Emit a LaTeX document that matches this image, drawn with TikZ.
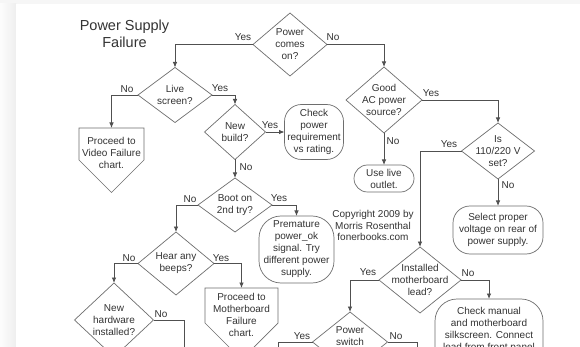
\documentclass[tikz,border=0pt]{standalone}
\usepackage{fontspec}
\setmainfont{Liberation Sans}
\usepackage{tikz}
\usetikzlibrary{arrows.meta,positioning,shapes.geometric,calc}
\definecolor{edge}{HTML}{6E6E6E}
\definecolor{wire}{HTML}{505050}
\definecolor{ink}{HTML}{333333}

\begin{document}
\begin{tikzpicture}[
  x=1pt, y=-1pt,
  font=\fontsize{10}{12}\selectfont, text=ink,
  dec/.style={diamond,draw=edge,line width=0.7pt,inner sep=-20pt,outer sep=0pt,align=center},
  term/.style={rectangle,draw=edge,line width=0.7pt,rounded corners=#1,inner sep=0pt,outer sep=0pt,align=center},
  term/.default=16pt,
  page/.style={rectangle,inner sep=0pt,outer sep=0pt,align=center},
  yn/.style={anchor=base,inner sep=0pt},
  ln/.style={draw=wire,line width=0.8pt},
  a/.style={ln,-{Latex[length=5.5pt,width=4.5pt]}}]
% backdrop of the page
\fill[gray!7] (0,0) rectangle (580,347);
\fill[left color=gray!2,right color=gray!13] (0,4) rectangle (16,347);
\fill[white] (16,4) rectangle (580,347);
\useasboundingbox (0,0) rectangle (580,347);

\node[page,font=\fontsize{14.5}{17}\selectfont,anchor=north] (title) at (124.5,19.5) {Power Supply\\Failure};

% decisions
\node[dec,minimum width=74pt,minimum height=63pt] (power) at (290,44.5) {Power\\comes\\on?};
\node[dec,minimum width=74pt,minimum height=55pt] (live) at (175,95) {Live\\screen?};
\node[dec,minimum width=61pt,minimum height=55pt] (build) at (235,132) {New\\build?};
\node[dec,minimum width=74pt,minimum height=54pt] (boot) at (235,205) {Boot on\\2nd try?};
\node[dec,minimum width=76pt,minimum height=63pt] (hear) at (176,263.5) {Hear any\\beeps?};
\node[dec,minimum width=79pt,minimum height=74pt] (newhw) at (114,320) {New\\hardware\\installed?};
\node[dec,minimum width=76pt,minimum height=66pt] (good) at (384,100) {Good\\AC power\\source?};
\node[dec,minimum width=73pt,minimum height=56pt] (is) at (498,151) {Is\\110/220 V\\set?};
\node[dec,minimum width=82pt,minimum height=66pt] (inst) at (420,280) {Installed\\motherboard\\lead?};
\node[dec,minimum width=75pt,minimum height=60pt] (sw) at (350,342) {Power\\switch\\\phantom{lead?}};

% end boxes
\node[term=17pt,minimum width=59pt,minimum height=55pt,right=19pt of build] (check) {Check\\power\\requirement\\vs rating.};
\node[term=13.5pt,minimum width=60pt,minimum height=27pt,below=32pt of good] (outlet) {Use live\\outlet.};
\node[term=17pt,minimum width=90pt,minimum height=48pt,below=27pt of is] (select) {Select proper\\voltage on rear of\\power supply.};
\node[term=22pt,minimum width=75pt,minimum height=67pt] (prem) at (296.5,249.5) {Premature\\power\_ok\\signal. Try\\different power\\supply.};
\node[term=22pt,minimum width=108pt,minimum height=71pt] (manual) at (489,334.5) {Check manual\\and motherboard\\silkscreen. Connect\\lead from front panel\\\phantom{x}};

% off page charts
\node[page,minimum width=65pt,minimum height=50pt] (video) at (111.5,153) {Proceed to\\Video Failure\\chart.};
\draw[edge,line width=0.7pt] (video.north west) -- (video.north east) -- ([yshift=18pt]video.south east)
  -- ([yshift=-14.5pt]video.south) -- ([yshift=18pt]video.south west) -- cycle;
\node[page,minimum width=73pt,minimum height=53pt] (mobo) at (241.5,314.5) {Proceed to\\Motherboard\\Failure\\chart.};
\draw[edge,line width=0.7pt] (mobo.north west) -- (mobo.north east) -- ([yshift=18pt]mobo.south east)
  -- ([yshift=-18.5pt]mobo.south) -- ([yshift=18pt]mobo.south west) -- cycle;

\node[page,font=\fontsize{10}{11.5}\selectfont,anchor=north] (copy) at (373,210.5) {Copyright 2009 by\\Morris Rosenthal\\fonerbooks.com};

\coordinate (o1) at (184,360);
\coordinate (o2) at (278,360);
\coordinate (o3) at (417,360);

% connectors
\draw[a] (power.west) -| (live.north);
\draw[a] (power.east) -| (good.north);
\draw[a] (live.west) -| (video.north);
\draw[a] (live.east) -| (build.north);
\draw[a] (build.east) -- (check.west);
\draw[a] (build.south) -- (boot.north);
\draw[a] (boot.west) -| (hear.north);
\draw[a] (boot.east) -| (prem.north);
\draw[a] (hear.west) -| (newhw.north);
\draw[a] (hear.east) -| (mobo.north);
\draw[ln] (newhw.east) -| (o1);
\draw[a] (good.east) -| (is.north);
\draw[a] (good.south) -- (outlet.north);
\draw[a] (is.west) -| (inst.north);
\draw[a] (is.south) -- (select.north);
\draw[a] (inst.west) -| (sw.north);
\draw[a] (inst.east) -| (manual.north);
\draw[ln] (sw.west) -| (o2);
\draw[ln] (sw.east) -| (o3);

% yes / no
\node[yn] (y1) at (243,41) {Yes};
\node[yn] (n1) at (333,41) {No};
\node[yn] (n2) at (127,93) {No};
\node[yn] (y2) at (220,92) {Yes};
\node[yn] (y3) at (431,97) {Yes};
\node[yn] (y4) at (270,129) {Yes};
\node[yn] (n3) at (246,171) {No};
\node[yn] (n4) at (393,145) {No};
\node[yn] (y5) at (449,148) {Yes};
\node[yn] (n5) at (508,189) {No};
\node[yn] (n6) at (190,203) {No};
\node[yn] (y6) at (279,202) {Yes};
\node[yn] (n7) at (129,261) {No};
\node[yn] (y7) at (221,261) {Yes};
\node[yn] (y8) at (368,275) {Yes};
\node[yn] (n8) at (468,276) {No};
\node[yn] (n9) at (161,317) {No};
\node[yn] (y9) at (302,339) {Yes};
\node[yn] (n10) at (396,339) {No};
\end{tikzpicture}
\end{document}
